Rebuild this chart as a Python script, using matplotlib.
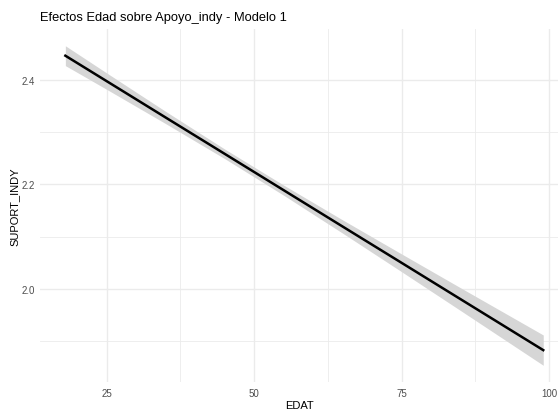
"""Efectos Edad sobre Apoyo_indy - Modelo 1 (efecto marginal con IC)."""

import matplotlib
matplotlib.use("Agg")
import matplotlib.pyplot as plt
from matplotlib.ticker import MultipleLocator

# ---------------------------------------------------------------------------
# Datos
# ---------------------------------------------------------------------------
edat = [18, 25, 35, 45, 55, 65, 75, 85, 99]
fit = [2.4465, 2.3978, 2.3282, 2.2587, 2.1891, 2.1195, 2.0500, 1.9804, 1.8830]
lower = [2.4275, 2.3821, 2.3165, 2.2495, 2.1794, 2.1068, 2.0330, 1.9586, 1.8540]
upper = [2.4655, 2.4135, 2.3399, 2.2679, 2.1988, 2.1322, 2.0670, 2.0022, 1.9120]

x_ticks = [25, 50, 75, 100]
y_ticks = [2.0, 2.2, 2.4]

TITLE = "Efectos Edad sobre Apoyo_indy - Modelo 1"
XLABEL = "EDAT"
YLABEL = "SUPORT_INDY"

plt.rcParams["font.family"] = ["Liberation Sans", "DejaVu Sans"]

GRID = "#EBEBEB"
TICK_C = "#4D4D4D"

fig = plt.figure(figsize=(5.58, 4.14), dpi=100)
ax = fig.add_axes([40 / 558, 1 - 383 / 414, 518 / 558, 353 / 414])

ax.fill_between(edat, lower, upper, color="#D6D6D6", linewidth=0, zorder=2)
ax.plot(edat, fit, color="black", linewidth=1.8, zorder=3)

ax.set_xlim(13.7, 101.5)
ax.set_ylim(1.822, 2.4976)

ax.set_xticks(x_ticks)
ax.set_yticks(y_ticks)
ax.set_yticklabels([f"{v:.1f}" for v in y_ticks])
ax.xaxis.set_minor_locator(MultipleLocator(12.5))
ax.yaxis.set_minor_locator(MultipleLocator(0.1))

ax.grid(which="major", color=GRID, linewidth=1.0, zorder=0)
ax.grid(which="minor", color=GRID, linewidth=0.6, zorder=0)
ax.set_axisbelow(True)

for s in ax.spines.values():
    s.set_visible(False)
ax.tick_params(which="both", length=0)
ax.tick_params(axis="both", labelsize=7, colors=TICK_C, pad=4)

ax.set_xlabel(XLABEL, fontsize=8, color="black", labelpad=2)
ax.set_ylabel(YLABEL, fontsize=8, color="black")
ax.yaxis.set_label_coords(-20 / 518, 0.5)
fig.text(40 / 558, 1 - 18 / 414, TITLE, fontsize=9.3, ha="left", va="center")

fig.savefig("out.png", dpi=100)
